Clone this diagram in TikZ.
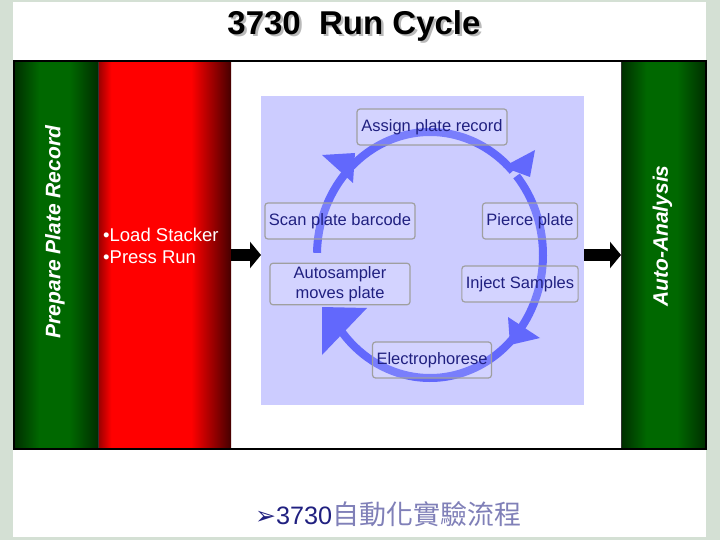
\documentclass[tikz,border=0pt]{standalone}
\usepackage{fontspec}
\setmainfont{Liberation Sans}
\newfontfamily\cjkfont{Noto Sans CJK TC}
\newfontfamily\dingfont{DejaVu Sans}
\usetikzlibrary{arrows.meta,positioning}

\definecolor{slidebg}{RGB}{212,224,212}
\definecolor{lavender}{RGB}{204,204,255}
\definecolor{ringblue}{RGB}{98,104,252}
\definecolor{navy}{RGB}{32,32,128}
\definecolor{paleink}{RGB}{128,128,184}
\definecolor{gedge}{RGB}{0,46,0}
\definecolor{gmid}{RGB}{0,104,0}
\definecolor{redge}{RGB}{150,0,0}
\definecolor{rdeep}{RGB}{70,0,0}

\pgfdeclarehorizontalshading{greenbar}{100bp}{color(0bp)=(gedge); color(25bp)=(gedge); color(40bp)=(gmid); color(58bp)=(gmid); color(75bp)=(gedge); color(100bp)=(gedge)}
\pgfdeclarehorizontalshading{redbar}{100bp}{color(0bp)=(redge); color(25bp)=(redge); color(30bp)=(red); color(60bp)=(red); color(75bp)=(rdeep); color(100bp)=(rdeep)}

\newcommand{\titletext}{3730~~Run Cycle}

\tikzset{
  panel/.style={anchor=north west, minimum height=388, inner sep=0, outer sep=0},
  sidelabel/.style={rotate=90, text=white, font=\fontsize{21}{24}\selectfont\bfseries\itshape},
  stepbox/.style={draw=gray!75, line width=1.2, fill=white, fill opacity=0.15, text opacity=1,
    rounded corners=3, minimum height=36, inner xsep=4, text=navy,
    font=\fontsize{16.5}{19.5}\selectfont, align=center},
  ring/.style={draw=ringblue, line width=8},
  ringhead/.style={fill=ringblue},
  blockarrow/.style={line width=12, -{Triangle[width=26pt,length=11pt]}},
}

\begin{document}
\begin{tikzpicture}[x=1pt, y=-1pt]
  % slide page
  \fill[slidebg] (0,0) rectangle (720,540);
  \useasboundingbox (0,0) rectangle (720,540);
  \fill[white] (13,2) rectangle (706,537);

  % --- Title (with its drop shadow) ---
  \node[font=\fontsize{33}{36}\selectfont\bfseries] (title) at (354,27)
    {\makebox[0pt][l]{\hspace{2.5pt}\raisebox{-2.5pt}{\textcolor{gray!55}{\titletext}}}\titletext};

  % --- Side panels ---
  \node[panel, minimum width=84, shading=greenbar] (prep) at (14,61) {};
  \node[panel, minimum width=133, shading=redbar] (stack) at (98,61) {};
  \node[panel, minimum width=85, shading=greenbar] (anal) at (621,61) {};
  \draw[black!80, line width=1] (prep.north east) -- (prep.south east);
  \draw[black!80, line width=1] (anal.north west) -- (anal.south west);
  \draw[line width=2] (14,61) rectangle (706,449);

  \node[sidelabel] (preplbl) at ([yshift=23pt,xshift=-1pt]prep.center) {Prepare Plate Record};
  \node[sidelabel] (anallbl) at ([yshift=19pt,xshift=-1pt]anal.center) {Auto-Analysis};
  \node[anchor=west, text=white, align=left, inner sep=0, font=\fontsize{18.5}{22.5}\selectfont] (steps) at (103,246) {•Load Stacker\\•Press Run};

  % --- Cycle area ---
  \node[anchor=north west, fill=lavender, minimum width=323, minimum height=309, inner sep=0] (cycle) at (261,96) {};
  \draw[blockarrow] (stack.east) -- (cycle.west |- stack.east);
  \draw[blockarrow] (cycle.east |- anal.west) -- (anal.west);

  % ring, clockwise, with its four heads
  \coordinate (ctr) at (430,255);
  \draw[ring] ([shift={(181:113 and 123)}]ctr) arc[start angle=181, end angle=222, x radius=113, y radius=123];
  \draw[ring] ([shift={(226:113 and 123)}]ctr) arc[start angle=226, end angle=317, x radius=113, y radius=123];
  \draw[ring] ([shift={(320:113 and 123)}]ctr) arc[start angle=320, end angle=396, x radius=113, y radius=123];
  \draw[ring] ([shift={(38:113 and 123)}]ctr) arc[start angle=38, end angle=143, x radius=113, y radius=123];
  \fill[ringhead] (322,155) -- (355,153) -- (353,183) -- cycle;
  \fill[ringhead] (503,167) -- (535,150) -- (530,177) -- cycle;
  \fill[ringhead] (508,317) -- (540,338) -- (510,345) -- cycle;
  \fill[ringhead] (322,307) -- (367,308) -- (322,355) -- cycle;

  % steps
  \node[stepbox, minimum width=150] (assign) at (432,127) {Assign plate record};
  \node[stepbox, minimum width=144] (scan) at (340,221) {Scan plate barcode};
  \node[stepbox, minimum width=92] (pierce) at (530,221) {Pierce plate};
  \node[stepbox, minimum width=140] (move) at (340,284) {Autosampler\\moves plate};
  \node[stepbox, minimum width=112] (inject) at (520,284) {Inject Samples};
  \node[stepbox, minimum width=112] (electro) at (432,360) {Electrophorese};

  % --- Caption ---
  \node[anchor=west, inner sep=0] (caption) at (255,514) {{\dingfont\fontsize{25}{30}\selectfont\color{navy}➢}{\fontsize{25.2}{30}\selectfont\color{navy}3730}{\cjkfont\fontsize{27}{32}\selectfont\color{paleink}自動化實驗流程}};
\end{tikzpicture}
\end{document}
